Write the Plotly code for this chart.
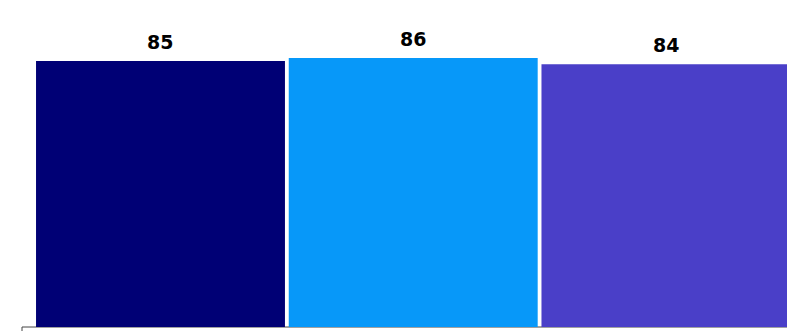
import plotly.graph_objects as go

categories = ["A", "B", "C"]
values = [85, 86, 84]
colors = ["#000075", "#0798F9", "#4A3FC8"]
labels = [str(v) for v in values]

fig = go.Figure()
fig.add_trace(go.Bar(
    x=categories, y=values,
    marker=dict(color=colors, line=dict(width=0)),
    width=0.985,
    hoverinfo="skip",
))

for c, v, t in zip(categories, values, labels):
    fig.add_annotation(x=c, y=v, text="<b>%s</b>" % t, showarrow=False,
                       yanchor="middle", yshift=19,
                       font=dict(family="DejaVu Sans", size=19, color="#000000"))

# frame corner below the plot area
fig.add_shape(type="rect", xref="paper", yref="paper",
              x0=0, x1=1.05, y0=0, y1=-0.05,
              line=dict(color="#444444", width=1), fillcolor="rgba(0,0,0,0)",
              layer="below")

fig.update_layout(
    width=787, height=331,
    margin=dict(l=22, r=0, t=0, b=4),
    paper_bgcolor="white", plot_bgcolor="white",
    showlegend=False,
    xaxis=dict(range=[-0.548, 2.479], showticklabels=False, showgrid=False,
               zeroline=False, showline=False, ticks=""),
    yaxis=dict(range=[0, 104.5], showticklabels=False, showgrid=False,
               zeroline=False, showline=False, ticks=""),
)

fig.write_html("out.html", config={"displayModeBar": False},
               post_script="document.body.style.margin='0';document.body.style.overflow='hidden';")
